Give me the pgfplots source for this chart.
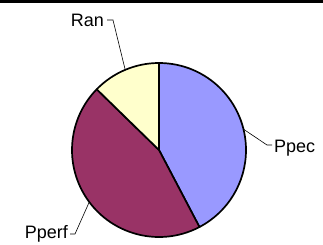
\documentclass[border=0pt]{standalone}
\usepackage{pgfplots}
\usepackage{pgfplotstable}
\pgfplotsset{compat=1.18}
\usepackage{fontspec}
\setmainfont{Liberation Sans}
\definecolor{cPpec}{HTML}{9999FF}
\definecolor{cPperf}{HTML}{993366}
\definecolor{cRan}{HTML}{FFFFCC}
\pgfplotstableread{
label value
Ppec 42.3
Pperf 45.0
Ran 12.7
}\piedata
\begin{document}
\begin{tikzpicture}
\pgfplotstablegetelem{0}{value}\of\piedata \let\va\pgfplotsretval
\pgfplotstablegetelem{1}{value}\of\piedata \let\vb\pgfplotsretval
\pgfplotstablegetelem{2}{value}\of\piedata \let\vc\pgfplotsretval
\pgfmathsetmacro\tot{\va+\vb+\vc}
\pgfmathsetmacro\aA{90}
\pgfmathsetmacro\aB{90-360*\va/\tot}
\pgfmathsetmacro\aC{\aB-360*\vb/\tot}
\pgfmathsetmacro\aD{\aC-360*\vc/\tot}
\pgfmathsetmacro\mA{(\aA+\aB)/2}
\pgfmathsetmacro\mB{(\aB+\aC)/2}
\pgfmathsetmacro\mC{(\aC+\aD)/2}
\begin{axis}[width=323pt,height=244pt,scale only axis,
  xmin=0,xmax=323,ymin=0,ymax=244,enlargelimits=false,
  hide axis,clip=false]
\fill[black] (axis cs:0,241.3) rectangle (axis cs:323,244);
\filldraw[fill=cPpec,line width=1.7pt,line join=round]
  (axis cs:159,94) -- ++(\aA:87pt) arc[start angle=\aA,end angle=\aB,radius=87pt] -- cycle;
\filldraw[fill=cPperf,line width=1.7pt,line join=round]
  (axis cs:159,94) -- ++(\aB:87pt) arc[start angle=\aB,end angle=\aC,radius=87pt] -- cycle;
\filldraw[fill=cRan,line width=1.7pt,line join=round]
  (axis cs:159,94) -- ++(\aC:87pt) arc[start angle=\aC,end angle=\aD,radius=87pt] -- cycle;
% leader lines
\draw[line width=0.6pt] (axis cs:159,94) ++(\mA:87pt) -- (axis cs:267,99) -- (axis cs:272,99);
\draw[line width=0.6pt] (axis cs:159,94) ++(\mB:87pt) -- (axis cs:75,10) -- (axis cs:70,10);
\draw[line width=0.6pt] (axis cs:159,94) ++(\mC:87pt) -- (axis cs:113,224) -- (axis cs:107,224);
\node[anchor=base west,inner sep=0pt,font=\fontsize{18}{20}\selectfont] at (axis cs:274,92) {Ppec};
\node[anchor=base east,inner sep=0pt,font=\fontsize{18}{20}\selectfont] at (axis cs:68,6) {Pperf};
\node[anchor=base east,inner sep=0pt,font=\fontsize{18}{20}\selectfont] at (axis cs:104,218) {Ran};
\end{axis}
\pgfresetboundingbox
\path (current axis.south west) rectangle (current axis.north east);
\end{tikzpicture}
\end{document}
